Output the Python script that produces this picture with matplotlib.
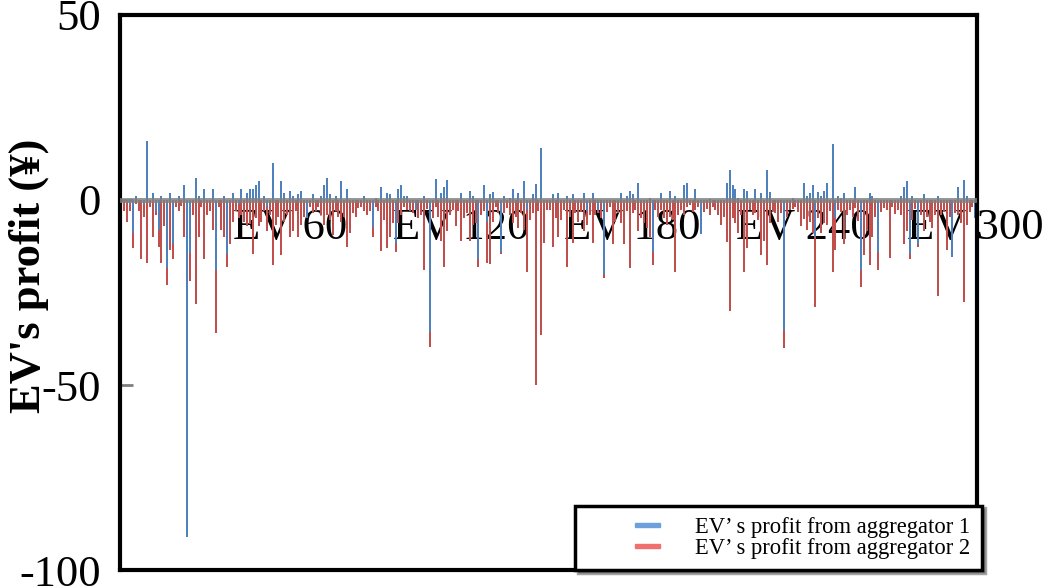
import matplotlib
matplotlib.use("Agg")
import matplotlib.pyplot as plt
import numpy as np
from matplotlib.legend_handler import HandlerPatch
from matplotlib.patches import Patch, Rectangle

plt.rcParams["font.family"] = ["Liberation Serif", "DejaVu Serif"]
plt.rcParams["axes.unicode_minus"] = False

# profit of each EV from aggregator 1 (blue) and aggregator 2 (red), EV 1..300
profit_agg1 = [
    1, 0, 0, -1, -9, 1, 0, 0, -1, 16, 0, 2, -3, -8, 1, 0, -18.5, 2, -12, 0,
    1, 0, 4, -91, -14.4, 0, 6, 1, 0, 3, 0, 0, 3, -19, 0, 0, 1, -14.5, 0, 2,
    0, -1, 3, 0, 2, 3, 3, 4, 5, 0,
    1, -2, 0, 10, 0, 0, 5, 2, 0, 2.5, 1, 0, 1.5, 2.5, 0, -5, 0, 1.5, 0, 0,
    1, 4, 6, 1.5, 0, 1, 0, 5, 0, 3, 0, 0, 0, 0, 0, 1, 0, 0, -7.3, 0.5,
    0, 3.6, 0, 2, 1.5, 0, -11.7, 3, 4, 1,
    1, 0, 0, -2.7, 0, 0, 1, 0, -35.6, 0, 5.7, 0, 2, 3.6, 5.4, 0, 0, 0, 0, 2,
    0, 0, 2.4, 1, 0, -16, 0, 4, -6, 1.5, 2.2, 0, 0, -14, 1, 0, 0.5, 3, 0, 2,
    0, 5, -2.7, 0, 1.5, 4.3, 0, 14, 0, 0,
    0, 1.5, 0, 2, 0, 0, 1, 0, 1.5, 0, 0, 0, 2, -3, 0, 1.8, 0, -2.7, 0, -20,
    0, 0, 0, 0, 0, 2, 0, 1, 2.4, 1.5, 0, 4.5, 0, 0, 0, 0.5, -14, 0, 0, 1.8,
    0, 0, 2.4, 0, 1.2, 0, 0, 4, 4.5, 0,
    0, 3, 0, -9.3, 0, 0, 0.3, 0, 0, 0, 0, 0, 4.5, 8, 4, 3, 0.5, 0, 3, 2.4,
    0, 0, 3, 0, 2, 0, 8, 2.2, 0, 0, 0, 0, -35, 0, 0, 0.6, 0, 0, 0, 4.5,
    1, 2, 4, -10, 2.2, 1, 2.4, 4.5, 0, 15,
    -5, 1, 0.5, 1.8, 0, 0, 0, 3.6, 0, -19, 0, 0, 1.8, 1, 0, -14, 0, 0, 0, 0,
    0, 0, 0, 1, 3.6, 5, -14.6, 1, 0, -12, 0, 1.5, 0, 0, 0, 0, 1, 0, 0, 0,
    0, -15.3, 0, 3.6, 0, 5.4, 1, 0, 0, -5,
]
profit_agg2 = [
    -15, -3, -6, -3, -13, -1, -3, -16, -4.5, -17, -2, -10, -4, -12.6, -17, -7, -23, -13.5, -16, -2,
    -3, -1.5, -10, -20, -22, -4, -28, -10, -2, -16, -4, -3, -8, -36, -2, -8, -10, -18, -12, -6,
    -3, -5, -4, -6, -7, -6.5, -14.5, -5, -7, -6,
    -3, -8.5, -4, -17.5, -6.7, -4.5, -15, -6, -4, -10, -8.5, -3, -10, -6.7, -4.5, -4, -2, -3.6, -3, -1.8,
    -4, -6.7, -4, -5.4, -9.5, -3, -4.5, -5.9, -4.5, -12.6, -9, -3.6, -4.5, -2.2, -1.8, -3, -4, -3, -10, -1.8,
    -3, -13.7, -5.4, -13, -10, -6.3, -14, -6.3, -4, -2,
    -2.7, -3, -3.6, -2, -5, -4, -19, -2.5, -39.6, -5, -1.8, -4.5, -11, -18, -8.5, -4, -2.7, -7, -3, -11,
    -5, -3.6, -11, -6.8, -6.3, -18, -4, -3, -17, -17.3, -5.9, -1.8, -3.6, -14.5, -3.6, -2.2, -4, -6.3, -4.5, -7.7,
    -3.6, -8.1, -19.5, -5.4, -3.6, -50, -3, -36.5, -11.7, -2.7,
    -2.7, -12.6, -5, -10, -5.4, -2.7, -18, -4.5, -11.5, -3.6, -5.9, -3.2, -8.5, -6.8, -4, -11.7, -4, -3.6, -5, -21,
    -3.2, -1.8, -12, -5.9, -3.6, -6.3, -12, -3, -18.5, -3.6, -2.7, -8.5, -5, -6.3, -7.7, -10, -17.5, -2.7, -4.5, -2.7,
    -5, -6.8, -4.5, -5.4, -19.4, -4, -2.7, -4, -1.8, -1.4,
    -3.2, -2.7, -1.8, -5.4, -3.2, -2.5, -4, -1.8, -2.7, -4, -6.8, -4.5, -11.4, -30, -5, -6.3, -9, -4, -19.5, -13,
    -2.7, -4, -3.6, -5.4, -15, -11, -17.5, -6.3, -3, -3.6, -6, -3.6, -40, -4.5, -2.7, -2.5, -1.8, -3.2, -7, -5.2,
    -8.1, -5.9, -9, -29, -5, -9, -6.3, -6.8, -3, -19.4,
    -13.5, -2.7, -3.2, -12, -4, -2.7, -4.5, -2.2, -5.6, -23.4, -15, -8.5, -17.5, -10, -4.5, -19, -3.2, -2.2, -2.7, -15.8,
    -1.8, -3.9, -2.7, -4, -12, -8.5, -16, -5.4, -2.5, -12.6, -4, -8.5, -4.5, -5.9, -7.7, -4, -26, -4, -3.2, -13.5,
    -4.5, -14.5, -3.6, -4, -6.3, -27.7, -6.8, -3.2, -1.8, -4,
]
ev_ids = np.arange(1, len(profit_agg1) + 1)
tick_ids = [60, 120, 180, 240, 300]
tick_labels = ["EV 60", "EV 120", "EV 180", "EV 240", "EV 300"]
legend_labels = ["EV’ s profit from aggregator 1", "EV’ s profit from aggregator 2"]


def small_patch(legend, orig_handle, xdescent, ydescent, width, height, fontsize):
    # short flat swatch sitting at the right end of the handle box
    w, h = 1.1 * fontsize * 1.39 / 1.39, 0.3 * height
    return Rectangle((-xdescent + width - w - 0.45 * fontsize, -ydescent + (height - h) / 2), w, h)


fig = plt.figure(figsize=(10.48, 5.88), dpi=100)
ax = fig.add_axes([0.1145, 0.0306, 0.8175, 0.9439])

ax.bar(ev_ids, profit_agg2, width=0.7, color="#C0504D", zorder=2)
ax.bar(ev_ids, profit_agg1, width=0.7, color="#4F81BD", zorder=2.5)
ax.axhline(0, color="#7f7f7f", lw=3.5, alpha=0.85, zorder=3)

ax.set_xlim(0.5, len(ev_ids) + 0.5)
ax.set_ylim(-100, 50)
ax.set_yticks([50, 0, -50, -100])
ax.tick_params(axis="y", direction="in", length=9, width=2, color="#7f7f7f",
               labelsize=32, pad=14)
ax.tick_params(axis="x", bottom=False, labelbottom=False)
for spine in ax.spines.values():
    spine.set_linewidth(3)
    spine.set_color("black")

sec = ax.secondary_xaxis(0, transform=ax.transData)
sec.set_xticks(tick_ids, tick_labels)
sec.tick_params(length=0, labelsize=32, pad=6)
sec.spines["bottom"].set_visible(False)

ax.set_ylabel("EV's profit (¥)", fontsize=32, fontweight="bold", va="center")
ax.yaxis.set_label_coords(-0.107, 0.53)

handles = [Patch(color="#6fa0dc"), Patch(color="#f07070")]
leg = ax.legend(handles, legend_labels, loc="lower right",
                bbox_to_anchor=(0.937, 0.03), bbox_transform=fig.transFigure,
                fontsize=16.3, frameon=True, fancybox=False, shadow=True,
                handlelength=3.7, handletextpad=1.1, borderpad=0.5,
                labelspacing=0.0, borderaxespad=0,
                handler_map={Patch: HandlerPatch(patch_func=small_patch)})
leg.get_frame().set_edgecolor("black")
leg.get_frame().set_linewidth(2.5)

fig.savefig("out.png", dpi=100)
